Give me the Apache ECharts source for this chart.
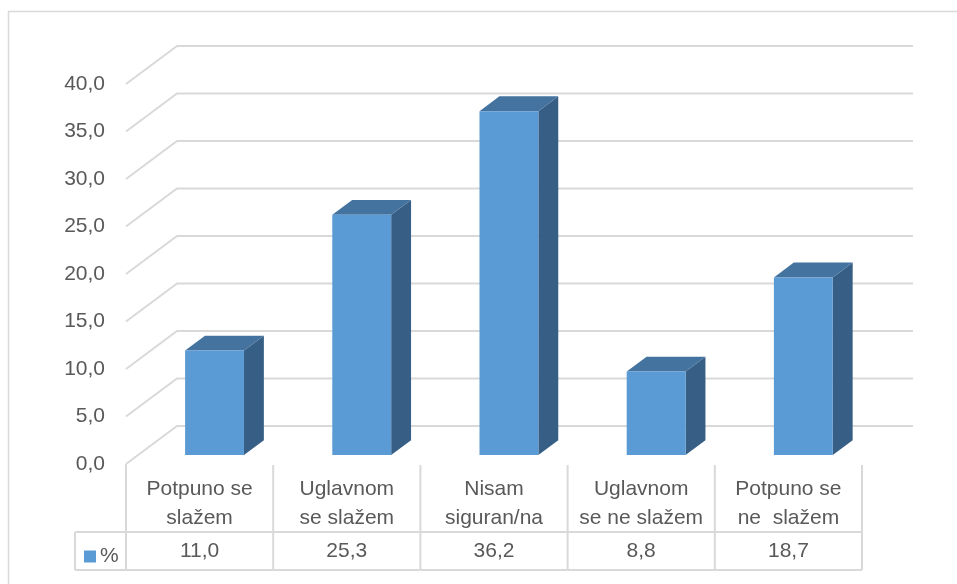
<!DOCTYPE html>
<html>
<head>
<meta charset="utf-8">
<script src="https://cdn.jsdelivr.net/npm/echarts@6/dist/echarts.min.js"></script>
<style>
  html, body { margin: 0; padding: 0; background: #fff; }
  #chart { width: 957px; height: 584px; }
</style>
</head>
<body>
<div id="chart"></div>
<script>
// podaci
var categories = ['Potpuno se\nslažem', 'Uglavnom\nse slažem', 'Nisam\nsiguran/na', 'Uglavnom\nse ne slažem', 'Potpuno se\nne  slažem'];
var values = [11.0, 25.3, 36.2, 8.8, 18.7];
var yTicks = [0, 5, 10, 15, 20, 25, 30, 35, 40];
var seriesName = '%';

// 3D izgled (pomak zadnjeg zida)
var DX = 51, DY = 38;
var FZ = 0.235, BZ = 0.39;      // dubina prednje strane stupca i debljina stupca
var TEXT = '#595959', LINE = '#d9d9d9';
var FONT = '21px "Liberation Sans", Arial, sans-serif';

function fmt(v) { return v.toFixed(1).replace('.', ','); }

var chart = echarts.init(document.getElementById('chart'));

chart.setOption({
  animation: false,
  graphic: [{
    type: 'rect', silent: true,
    shape: { x: 8.5, y: 11.5, width: 1000, height: 1000 },
    style: { fill: 'none', stroke: LINE, lineWidth: 1.5 }
  }],
  legend: {
    left: 79, top: 541,
    icon: 'rect', itemWidth: 12, itemHeight: 12, itemGap: 0,
    textStyle: { color: TEXT, fontSize: 21, fontFamily: 'Liberation Sans', padding: [0, 0, 0, -1] },
    data: [seriesName]
  },
  grid: { left: 126, right: 95, top: 84, bottom: 120 },
  xAxis: {
    type: 'category', data: categories,
    axisLine: { show: false }, axisTick: { show: false }, axisLabel: { show: false }
  },
  yAxis: {
    type: 'value', min: 0, max: 40, interval: 5,
    axisLine: { show: false }, axisTick: { show: false }, splitLine: { show: false },
    axisLabel: { color: TEXT, fontSize: 21, fontFamily: 'Liberation Sans', margin: 21, formatter: fmt,
      padding: [4, 0, 0, 0] }
  },
  series: [
    {
      // zadnji zid i bocne linije
      type: 'custom', silent: true, z: 1,
      data: yTicks.map(function (v) { return [0, v]; }),
      renderItem: function (params, api) {
        var cs = params.coordSys;
        var y = api.coord([0, api.value(1)])[1];
        return {
          type: 'polyline',
          shape: { points: [[cs.x, y], [cs.x + DX, y - DY], [cs.x + cs.width + DX, y - DY]] },
          style: { stroke: LINE, lineWidth: 2, fill: null }
        };
      }
    },
    {
      // tablica podataka
      type: 'custom', silent: true, z: 1,
      data: values.map(function (v, i) { return [i, v]; }),
      renderItem: function (params, api) {
        var i = api.value(0);
        var c = api.coord([i, 0]);
        var w = api.size([1, 0])[0];
        var left = c[0] - w / 2, right = c[0] + w / 2;
        var top = c[1] + 1, mid = c[1] + 68, bot = c[1] + 106;
        var ln = { stroke: LINE, lineWidth: 2 };
        var kids = [
          { type: 'line', shape: { x1: right, y1: top, x2: right, y2: bot }, style: ln },
          { type: 'line', shape: { x1: left, y1: mid, x2: right, y2: mid }, style: ln },
          { type: 'line', shape: { x1: left, y1: bot, x2: right, y2: bot }, style: ln },
          { type: 'text', style: { text: categories[i], x: c[0], y: c[1] + 40, align: 'center', verticalAlign: 'middle', font: FONT, fill: TEXT, lineHeight: 29 } },
          { type: 'text', style: { text: fmt(api.value(1)), x: c[0], y: c[1] + 87, align: 'center', verticalAlign: 'middle', font: FONT, fill: TEXT } }
        ];
        if (i === 0) {
          kids.push({ type: 'line', shape: { x1: left, y1: c[1], x2: left, y2: bot }, style: ln });
          kids.push({ type: 'line', shape: { x1: left - 51, y1: mid, x2: left, y2: mid }, style: ln });
          kids.push({ type: 'line', shape: { x1: left - 51, y1: bot, x2: left, y2: bot }, style: ln });
          kids.push({ type: 'line', shape: { x1: left - 51, y1: mid, x2: left - 51, y2: bot }, style: ln });
        }
        return { type: 'group', children: kids };
      }
    },
    {
      name: seriesName,
      type: 'custom', z: 3,
      itemStyle: { color: '#5B9BD5' },
      data: values.map(function (v, i) { return [i, v]; }),
      renderItem: function (params, api) {
        var i = api.value(0);
        var base = api.coord([i, 0]);
        var topP = api.coord([i, api.value(1)]);
        var w = api.size([1, 0])[0];
        var colLeft = base[0] - w / 2;
        var ox = FZ * DX, oy = FZ * DY;
        var fx = colLeft + w * 0.32 + ox;
        var bw = w * 0.40;
        var yb = base[1] - oy, yt = topP[1] - oy;
        var bx = BZ * DX, by = BZ * DY;
        return {
          type: 'group',
          children: [
            { type: 'polygon', shape: { points: [[fx + bw, yt], [fx + bw + bx, yt - by], [fx + bw + bx, yb - by], [fx + bw, yb]] }, style: { fill: '#375F85' } },
            { type: 'polygon', shape: { points: [[fx, yt], [fx + bx, yt - by], [fx + bw + bx, yt - by], [fx + bw, yt]] }, style: { fill: '#44739F' } },
            { type: 'rect', shape: { x: fx, y: yt, width: bw, height: yb - yt }, style: { fill: '#5B9BD5' } }
          ]
        };
      }
    }
  ]
});
</script>
</body>
</html>
